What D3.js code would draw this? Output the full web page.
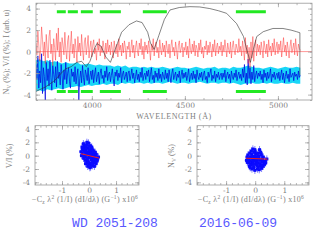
<!DOCTYPE html>
<html lang="en">
<head>
<meta charset="UTF-8">
<title>WD 2051-208 spectropolarimetry</title>
<style>
  body { margin: 0; padding: 0; background: #fff; }
  svg { display: block; }
  .tick line { stroke: #999; stroke-width: 0.7px; }
  .tick text { fill: #808080; font-family: "DejaVu Serif", "Liberation Serif", serif; font-size: 7.5px; }
  .lbl { fill: #808080; font-family: "Liberation Serif", "DejaVu Serif", serif; font-size: 8px; }
  .star { fill: #5858ff; font-family: "Liberation Mono", "DejaVu Sans Mono", monospace; font-size: 13px; }
</style>
</head>
<body>
<svg id="chart" width="314" height="240"></svg>
<script src="https://cdnjs.cloudflare.com/ajax/libs/d3/7.8.5/d3.min.js"></script>
<script>
// noisy series sampled every 5 A from 3700 to 5120
const wlStart = 3700, wlStep = 5;
const nullV = [
  0.8, -0.3, 1.9, 0.6, -0.9, 0.2, 2.3, 1.1, -0.4, 0.9, -1.1, 1.6, 0.3, -0.6, 1.4, 2.0, -0.2, 0.7, -1.3, 1.2,
  0.4, -0.8, 1.7, 0.1, 2.2, -0.5, 0.9, -1.0, 1.3, 0.6, -0.3, 1.8, 0.2, -0.7, 1.0, 1.5, -0.9, 0.5, 1.9, -0.2,
  0.7, -0.6, 1.2, 0.3, -1.0, 1.4, 0.0, 0.8, -0.4, 1.6, 0.2, -0.8, 0.9, 1.3, -0.3, 0.5, 1.5, -0.6, 0.4, 1.0,
  -0.5, 0.6, 1.1, -0.2, 0.3, -0.8, 0.9, 0.1, 1.2, -0.4, 0.5, -0.1, 1.0, 0.4, -0.7, 0.8, -0.2, 1.1, 0.0, 0.6,
  -0.3, 0.9, 0.2, -0.6, 1.0, 0.3, -0.2, 0.7, -0.5, 1.2, 0.1, 0.6, -0.4, 0.8, -0.1, 1.0, 0.4, -0.7, 0.5, 0.2,
  0.9, -0.5, 0.3, 1.1, -0.1, 0.6, -0.6, 0.4, 1.0, 0.0, -0.4, 0.8, 0.2, 1.2, -0.3, 0.5, -0.7, 0.9, 0.1, 0.6,
  -0.2, 1.0, 0.3, -0.8, 0.7, 0.1, 1.2, -0.4, 0.5, 0.9, -0.1, 0.4, -0.6, 1.1, 0.2, -0.3, 0.8, 0.0, 0.6, -0.5,
  1.0, 0.3, -0.2, 0.7, -0.6, 0.5, 1.1, 0.0, 0.4, -0.4, 0.9, 0.2, -0.7, 0.6, 1.0, -0.1, 0.3, 0.8, -0.5, 0.4,
  0.1, 0.9, -0.3, 0.5, -0.6, 1.2, 0.2, -0.2, 0.7, 0.0, 1.0, -0.4, 0.6, 0.3, -0.5, 0.8, 0.1, 1.1, -0.2, 0.4,
  -0.6, 0.5, 0.2, 1.0, -0.3, 0.6, -0.1, 0.9, 0.3, -0.5, 0.7, 0.0, 1.1, -0.4, 0.4, 0.8, -0.2, 0.5, 0.1, 0.9,
  -0.4, 0.6, 0.0, 1.1, 0.3, -0.5, 0.8, 0.2, -0.2, 0.9, -0.6, 0.4, 1.0, 0.1, -0.3, 0.7, 0.3, -0.1, 1.2, 0.0,
  0.5, -0.4, 1.0, 0.2, -0.8, 1.3, -0.2, 0.6, -1.1, 0.4, -1.5, 0.9, -0.6, 1.4, -0.9, 0.3, 1.1, -0.4, 0.7, 0.0,
  0.6, -0.3, 0.9, 0.2, -0.6, 1.0, 0.4, -0.2, 0.7, -0.5, 1.1, 0.1, 0.5, -0.4, 0.8, 0.0, 1.2, -0.3, 0.4, 0.9,
  -0.2, 0.7, 0.1, 1.0, -0.5, 0.4, 1.3, 0.0, 0.6, -0.4, 0.9, 0.2, -0.6, 0.5, 1.1, -0.1, 0.3, 0.8, -0.3, 1.2,
  0.2, -0.4, 0.7, 0.3, 0.1
];
const vOverI = [
  -1.2, -2.6, -0.4, -3.4, -1.8, -2.9, -0.2, -3.9, -1.5, -2.3, -4.5, -1.0, -2.7, -1.6, -3.2, -0.8, -2.4, -3.6, -1.3, -2.1,
  -2.9, -1.4, -3.3, -0.9, -2.5, -1.9, -3.1, -1.2, -2.2, -3.5, -1.7, -2.6, -1.0, -3.0, -2.0, -1.5, -2.8, -3.4, -1.6, -2.3,
  -1.9, -2.8, -1.4, -3.0, -2.2, -1.6, -4.5, -2.5, -1.8, -2.9, -1.3, -2.4, -3.1, -1.7, -2.1, -2.7, -1.5, -3.0, -2.3, -1.8,
  -2.6, -1.7, -2.9, -2.1, -1.5, -2.8, -2.3, -1.9, -3.0, -2.0, -1.6, -2.5, -2.2, -2.9, -1.8, -2.4, -1.4, -2.7, -2.1, -1.9,
  -2.8, -2.2, -1.6, -2.5, -3.2, -1.9, -2.3, -1.7, -2.7, -2.0, -2.4, -1.5, -2.9, -2.1, -1.8, -2.6, -2.3, -1.9, -2.8, -2.0,
  -1.8, -2.7, -2.2, -1.6, -2.5, -2.0, -2.9, -2.3, -1.7, -2.6, -2.1, -2.8, -1.9, -2.4, -1.5, -2.7, -2.2, -2.0, -2.6, -1.8,
  -2.3, -1.7, -2.8, -2.1, -1.5, -2.6, -2.2, -2.9, -1.8, -2.4, -2.0, -2.7, -1.6, -2.5, -2.1, -2.8, -1.9, -2.3, -2.6, -1.7,
  -2.5, -2.0, -2.8, -1.7, -2.3, -2.9, -2.0, -1.6, -2.6, -2.2, -1.9, -2.7, -2.1, -2.4, -1.8, -2.9, -2.2, -1.7, -2.5, -2.0,
  -2.4, -1.9, -2.7, -2.2, -1.6, -2.8, -2.3, -2.0, -2.6, -1.8, -2.5, -2.1, -2.9, -1.7, -2.3, -2.6, -2.0, -2.4, -1.9, -2.7,
  -2.1, -1.8, -2.6, -2.3, -2.9, -1.9, -2.4, -2.0, -1.6, -2.7, -2.2, -2.5, -1.8, -2.8, -2.1, -2.4, -1.9, -2.6, -2.2, -2.0,
  -2.6, -2.0, -2.4, -1.7, -2.8, -2.2, -1.9, -2.5, -2.1, -2.9, -1.8, -2.3, -2.6, -2.0, -2.4, -1.7, -2.7, -2.2, -1.9, -2.5,
  -2.1, -2.7, -1.6, -2.4, -1.2, -2.9, -2.0, -3.1, -0.7, -2.5, -1.5, -3.0, -1.9, -2.6, -1.3, -2.8, -2.2, -1.8, -2.5, -2.0,
  -2.3, -1.8, -2.6, -2.1, -2.9, -1.7, -2.4, -2.0, -2.7, -1.9, -2.5, -2.2, -1.6, -2.8, -2.1, -2.4, -1.9, -2.6, -2.2, -2.0,
  -2.5, -1.9, -2.7, -2.2, -1.7, -2.6, -2.0, -2.9, -2.3, -1.8, -2.5, -2.1, -2.8, -1.6, -2.4, -2.2, -2.0, -2.7, -1.9, -2.3,
  -2.1, -2.6, -1.8, -2.4, -2.2
];

// cyan band sampled every 20 A
const bandStep = 20;
const bandHi = [
  -0.8, -0.7, -0.9, -0.8, -1.0, -0.9, -1.0, -1.1, -1.0, -1.1,
  -1.1, -1.0, -1.2, -1.2, -1.1, -1.2, -1.3, -1.2, -1.3, -1.3,
  -1.3, -1.4, -1.3, -1.4, -1.3, -1.5, -1.4, -1.4, -1.5, -1.4,
  -1.5, -1.4, -1.5, -1.5, -1.4, -1.5, -1.6, -1.5, -1.4, -1.5,
  -1.5, -1.6, -1.5, -1.4, -1.5, -1.6, -1.5, -1.5, -1.4, -1.6,
  -1.5, -1.5, -1.6, -1.4, -1.5, -1.5, -1.4, -1.3, -1.4, -1.5,
  -1.5, -1.6, -1.5, -1.4, -1.5, -1.6, -1.5, -1.4, -1.5, -1.5,
  -1.4, -1.5
];
const bandLo = [
  -3.7, -3.6, -3.7, -3.5, -3.6, -3.5, -3.4, -3.5, -3.4, -3.3,
  -3.3, -3.2, -3.3, -3.2, -3.1, -3.2, -3.1, -3.1, -3.0, -3.1,
  -3.0, -3.0, -3.1, -2.9, -3.0, -2.9, -3.0, -2.9, -2.9, -3.0,
  -2.9, -3.0, -2.9, -2.9, -3.0, -2.9, -2.8, -2.9, -3.0, -2.9,
  -2.9, -3.0, -2.9, -2.9, -2.8, -2.9, -3.0, -2.9, -2.9, -3.0,
  -2.9, -2.9, -3.0, -2.9, -3.0, -3.1, -3.0, -3.0, -2.9, -3.0,
  -3.0, -2.9, -3.0, -2.9, -3.0, -3.0, -2.9, -3.0, -3.0, -2.9,
  -3.0, -3.0
];

// intensity (arbitrary units)
const fluxWl = [3700, 3750, 3800, 3830, 3860, 3889, 3920, 3945, 3970, 3990, 4010, 4027, 4050, 4075, 4100,
  4125, 4160, 4200, 4240, 4270, 4300, 4315, 4335, 4360, 4390, 4420, 4470, 4527, 4580, 4634, 4680, 4724,
  4778, 4815, 4833, 4852, 4868, 4886, 4921, 4973, 5027, 5070, 5100, 5118, 5118];
const flux = [-3.7, -3.3, -2.7, -2.1, -1.6, -1.4, -1.0, -0.9, -1.4, -0.9, 0.1, 0.75, 0.5, -0.5, -1.0,
  0.2, 1.8, 2.5, 2.85, 2.7, 1.8, 0.8, 0.2, 1.5, 3.0, 3.87, 4.1, 4.18, 4.15, 4.0, 3.8, 3.56,
  2.6, 1.4, 0.15, -1.0, 0.2, 1.4, 1.85, 2.15, 2.15, 2.0, 1.85, 1.75, -2.2];

// green continuum windows [start, end] in A
const windows = [[3812, 3860], [3871, 3925], [3941, 4005], [4043, 4156], [4274, 4403], [4774, 4935]];
const windowLevels = [3.7, -3.7];

// field-diagnostic scatter: V/I vs derivative
const vX = [-0.05, 0.10, -0.20, 0.15, 0.02, -0.12, 0.25, -0.08, 0.05, -0.25,
  0.18, -0.15, 0.08, -0.02, 0.30, -0.18, 0.12, -0.06, 0.20, -0.10,
  0.00, -0.22, 0.06, 0.14, -0.04, 0.22, -0.14, 0.10, -0.28, 0.03,
  0.16, -0.09, 0.26, -0.16, 0.04, -0.01, 0.19, -0.20, 0.09, -0.07,
  0.32, -0.12, 0.01, 0.13, -0.24, 0.07, -0.03, 0.21, -0.17, 0.11,
  -0.05, 0.27, -0.11, 0.02, 0.17, -0.19, 0.08, -0.13, 0.24, -0.01,
  0.35, -0.30, 0.05, -0.08, 0.15, -0.21, 0.12, 0.00, -0.15, 0.19,
  -0.06, 0.28, -0.10, 0.06, -0.26, 0.14, -0.02, 0.23, -0.14, 0.09];
const vY = [0.3, -0.5, 1.2, -1.1, 0.0, 0.8, -0.3, -0.6, 1.5, 0.4,
  0.6, -0.2, -1.4, 1.9, -0.8, 1.6, 0.2, -1.0, -1.6, 0.1,
  -0.3, 0.9, 0.7, -0.9, 1.1, 0.1, -0.7, 1.3, 0.0, -1.8,
  -0.2, 0.5, -1.2, 1.4, 0.9, -1.3, 0.4, -0.4, -0.6, 1.7,
  -0.5, 0.3, 0.6, -1.5, 1.0, -0.1, -0.8, -1.0, 0.7, 1.0,
  -1.6, 0.2, 1.2, 1.4, -0.7, -0.1, 0.4, -1.2, -0.9, 0.2,
  -0.2, 0.6, -1.1, 2.0, 0.8, 1.8, -1.3, 0.8, 0.0, -0.4,
  -0.4, -0.7, 1.5, -1.7, 1.3, 0.0, -1.1, 0.5, 0.6, -0.3];
const vFitX = [-0.30, 0.37], vFitY = [0.30, -0.36];

// null profile scatter
const nX = [0.05, -0.15, 0.20, -0.05, 0.12, -0.22, 0.30, 0.00, -0.10, 0.18,
  -0.28, 0.08, 0.25, -0.12, 0.03, -0.20, 0.15, -0.03, 0.35, 0.10,
  -0.08, 0.22, -0.18, 0.06, -0.25, 0.28, -0.01, 0.13, -0.14, 0.40,
  0.02, -0.07, 0.17, -0.30, 0.09, -0.11, 0.24, -0.04, 0.11, -0.19,
  0.32, -0.09, 0.04, 0.19, -0.23, 0.07, -0.02, 0.26, -0.16, 0.14,
  -0.06, 0.21, -0.27, 0.01, 0.16, -0.13, 0.36, -0.05, 0.10, -0.21,
  0.27, -0.10, 0.05, -0.17, 0.12, -0.01, 0.23, -0.24, 0.08, -0.06];
const nY = [-0.4, -1.2, 0.3, -1.8, -0.1, -0.5, -1.0, 0.6, -0.9, -1.5,
  -0.2, -2.0, -0.6, 0.2, -1.3, -1.6, 0.9, -0.3, -0.8, -1.1,
  1.0, -1.9, -0.8, -0.7, 0.1, -0.2, -2.2, -0.4, -1.4, -0.5,
  0.3, -1.0, -1.2, -0.7, 0.0, -2.0, -0.9, 0.5, -1.7, 0.4,
  -1.3, -0.5, -0.9, 0.5, -1.1, -1.5, -0.1, -0.3, -0.2, -2.1,
  -1.3, 0.1, -1.0, -0.6, -0.7, 0.7, -1.1, -1.7, 0.4, -0.4,
  -1.6, -0.1, -1.2, -1.8, -0.5, 0.9, -1.4, -0.6, -0.2, -0.8];
const nFitX = [-0.31, 0.42], nFitY = [-0.38, -0.52];

const errX = 0.06, errY = 0.55;

const svg = d3.select('#chart');
const fmt = d => String(d);

function frame(x, y, xMaj, xMin, yMaj, yMin) {
  const [x0, x1] = x.range(), [y0, y1] = y.range();
  const g = svg.append('g');
  g.append('g').attr('transform', `translate(0,${y0})`)
    .call(d3.axisBottom(x).tickValues(xMaj).tickSize(-4).tickPadding(3).tickFormat(fmt));
  g.append('g').attr('transform', `translate(0,${y0})`)
    .call(d3.axisBottom(x).tickValues(xMin).tickSize(-2).tickFormat(''));
  g.append('g').attr('transform', `translate(0,${y1})`)
    .call(d3.axisTop(x).tickValues(xMaj).tickSize(-4).tickFormat(''));
  g.append('g').attr('transform', `translate(0,${y1})`)
    .call(d3.axisTop(x).tickValues(xMin).tickSize(-2).tickFormat(''));
  g.append('g').attr('transform', `translate(${x0},0)`)
    .call(d3.axisLeft(y).tickValues(yMaj).tickSize(-4).tickPadding(5).tickFormat(fmt));
  g.append('g').attr('transform', `translate(${x0},0)`)
    .call(d3.axisLeft(y).tickValues(yMin).tickSize(-2).tickFormat(''));
  g.append('g').attr('transform', `translate(${x1},0)`)
    .call(d3.axisRight(y).tickValues(yMaj).tickSize(-4).tickFormat(''));
  g.append('g').attr('transform', `translate(${x1},0)`)
    .call(d3.axisRight(y).tickValues(yMin).tickSize(-2).tickFormat(''));
  g.selectAll('.domain').remove();
  g.append('rect')
    .attr('x', x0).attr('y', y1).attr('width', x1 - x0).attr('height', y0 - y1)
    .attr('fill', 'none').attr('stroke', '#999').attr('stroke-width', 0.8);
  return g;
}

// ---------- top panel: spectrum ----------
const xT = d3.scaleLinear().domain([3700, 5183]).range([36, 312]);
const yT = d3.scaleLinear().domain([-4.5, 4.5]).range([100, 3.2]);

svg.append('clipPath').attr('id', 'clipTop')
  .append('rect').attr('x', 36).attr('y', 3.2).attr('width', 276).attr('height', 96.8);
const specG = svg.append('g').attr('clip-path', 'url(#clipTop)');

const bandWl = bandHi.map((_, i) => wlStart + i * bandStep);
specG.append('path')
  .datum(bandWl.map((w, i) => [w, bandLo[i], bandHi[i]]))
  .attr('fill', '#19d6f7')
  .attr('d', d3.area().x(d => xT(d[0])).y0(d => yT(d[1])).y1(d => yT(d[2])));

const spec = d3.line().x(d => xT(d[0])).y(d => yT(d[1]));
specG.append('path')
  .datum(vOverI.map((v, i) => [wlStart + i * wlStep, v]))
  .attr('fill', 'none').attr('stroke', '#0000e0').attr('stroke-width', 0.7)
  .attr('d', spec);
specG.append('path')
  .datum(nullV.map((v, i) => [wlStart + i * wlStep, v]))
  .attr('fill', 'none').attr('stroke', '#ff3030').attr('stroke-opacity', 0.8).attr('stroke-width', 0.6)
  .attr('d', spec);
specG.append('line')
  .attr('x1', 36).attr('x2', 312).attr('y1', yT(0)).attr('y2', yT(0))
  .attr('stroke', '#ff5050').attr('stroke-width', 0.6);
specG.append('path')
  .datum(fluxWl.map((w, i) => [w, flux[i]]))
  .attr('fill', 'none').attr('stroke', '#333').attr('stroke-width', 0.6)
  .attr('d', spec);

windowLevels.forEach(lv => {
  specG.selectAll(null).data(windows).enter().append('line')
    .attr('x1', d => xT(d[0])).attr('x2', d => xT(d[1]))
    .attr('y1', yT(lv)).attr('y2', yT(lv))
    .attr('stroke', '#22e822').attr('stroke-width', 3);
});

frame(xT, yT, [4000, 4500, 5000], d3.range(3700, 5183, 100), [-4, -2, 0, 2, 4], d3.range(-4.5, 4.6, 0.5));

svg.append('text').attr('class', 'lbl')
  .attr('transform', 'translate(9,52) rotate(-90)').attr('text-anchor', 'middle')
  .call(t => {
    t.append('tspan').text('N');
    t.append('tspan').attr('font-size', '5.5px').attr('dy', 2).text('V');
    t.append('tspan').attr('dy', -2).text(' (%); V/I (%); I (arb. u)');
  });
svg.append('text').attr('class', 'lbl')
  .attr('x', 174).attr('y', 119).attr('text-anchor', 'middle').attr('letter-spacing', 0.6)
  .text('WAVELENGTH (Å)');

// ---------- bottom panels: scatter ----------
function scatter(x0, x1, xs, ys, fx, fy, ylab, ysub) {
  const x = d3.scaleLinear().domain([-2, 1.85]).range([x0, x1]);
  const y = d3.scaleLinear().domain([-4.4, 4.5]).range([185, 125.7]);
  const g = svg.append('g');
  const pts = xs.map((v, i) => [v, ys[i]]);
  g.selectAll('.ey').data(pts).enter().append('line')
    .attr('x1', d => x(d[0])).attr('x2', d => x(d[0]))
    .attr('y1', d => y(d[1] - errY)).attr('y2', d => y(d[1] + errY))
    .attr('stroke', '#3030ff').attr('stroke-width', 0.6);
  g.selectAll('.ex').data(pts).enter().append('line')
    .attr('x1', d => x(d[0] - errX)).attr('x2', d => x(d[0] + errX))
    .attr('y1', d => y(d[1])).attr('y2', d => y(d[1]))
    .attr('stroke', '#3030ff').attr('stroke-width', 0.6);
  g.selectAll('.pt').data(pts).enter().append('rect')
    .attr('x', d => x(d[0]) - 1.5).attr('y', d => y(d[1]) - 1.5)
    .attr('width', 3).attr('height', 3).attr('fill', '#0a0aff');
  g.append('line')
    .attr('x1', x(fx[0])).attr('x2', x(fx[1])).attr('y1', y(fy[0])).attr('y2', y(fy[1]))
    .attr('stroke', '#ee2020').attr('stroke-width', 1);
  frame(x, y, [-1, 0, 1], d3.range(-2, 1.85, 0.2), [-4, -2, 0, 2, 4], d3.range(-4, 4.6, 1));

  svg.append('text').attr('class', 'lbl')
    .attr('transform', `translate(${x0 - 23},156) rotate(-90)`).attr('text-anchor', 'middle')
    .call(t => {
      t.append('tspan').text(ylab);
      if (ysub) {
        t.append('tspan').attr('font-size', '5.5px').attr('dy', 2).text(ysub);
        t.append('tspan').attr('dy', -2).text(' (%)');
      }
    });
  svg.append('text').attr('class', 'lbl')
    .attr('x', (x0 + x1) / 2 - 2).attr('y', 202).attr('text-anchor', 'middle').attr('font-size', '8px')
    .attr('letter-spacing', 0.3)
    .call(t => {
      t.append('tspan').text('\u2212C');
      t.append('tspan').attr('font-size', '5.5px').attr('dy', 1.5).text('z');
      t.append('tspan').attr('dy', -1.5).text(' \u03bb');
      t.append('tspan').attr('font-size', '5.5px').attr('dy', -3).text('2');
      t.append('tspan').attr('dy', 3).text(' (1/I) (dI/d\u03bb) (G');
      t.append('tspan').attr('font-size', '5.5px').attr('dy', -3).text('\u22121');
      t.append('tspan').attr('dy', 3).text(') x10');
      t.append('tspan').attr('font-size', '5.5px').attr('dy', -3).text('6');
    });
}

scatter(35, 139, vX, vY, vFitX, vFitY, 'V/I (%)', null);
scatter(197, 309, nX, nY, nFitX, nFitY, 'N', 'V');

svg.append('text').attr('class', 'star').attr('x', 115).attr('y', 227).attr('text-anchor', 'middle').text('WD 2051-208');
svg.append('text').attr('class', 'star').attr('x', 238).attr('y', 227).attr('text-anchor', 'middle').text('2016-06-09');
</script>
</body>
</html>
